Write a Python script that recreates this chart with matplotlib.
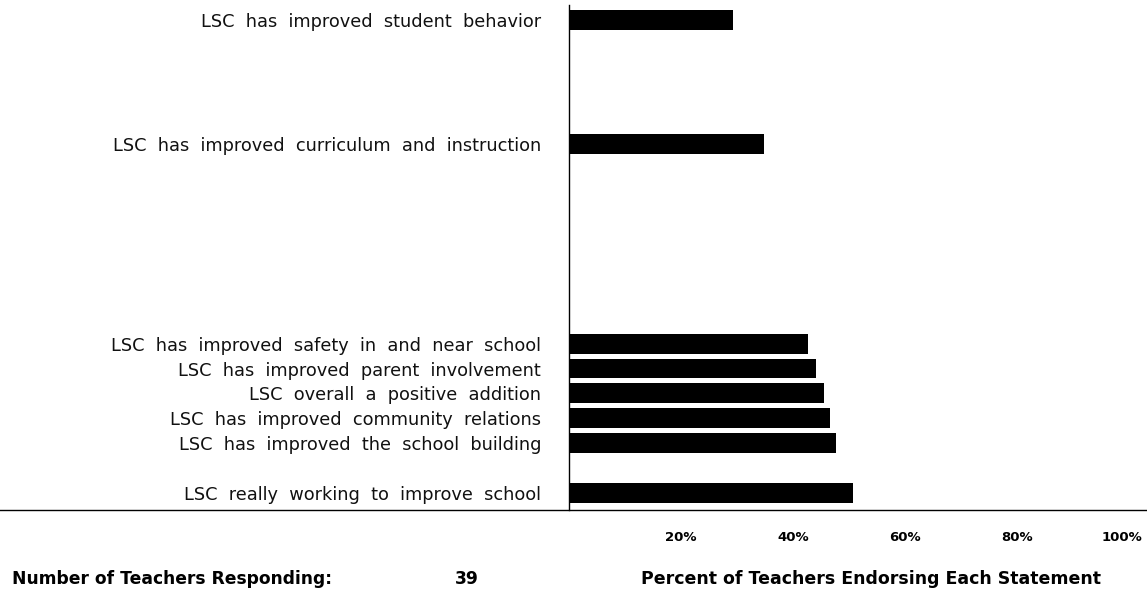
import matplotlib
matplotlib.use("Agg")
import matplotlib.pyplot as plt
from matplotlib.lines import Line2D
from matplotlib.transforms import ScaledTranslation

statements = [
    "LSC really working to improve school",
    "LSC has improved the school building",
    "LSC has improved community relations",
    "LSC overall a positive addition",
    "LSC has improved parent involvement",
    "LSC has improved safety in and near school",
    "LSC has improved curriculum and instruction",
    "LSC has improved student behavior",
]
percent = [50.7, 47.7, 46.6, 45.5, 44.1, 42.7, 34.8, 29.3]
row_pos = [0, 2, 3, 4, 5, 6, 14, 19]
tick_vals = [20, 40, 60, 80, 100]
tick_labels = ["20%", "40%", "60%", "80%", "100%"]
n_teachers = 39

W, H = 1147, 589
fig = plt.figure(figsize=(W / 100, H / 100), dpi=100)
px_per_pct = 5.6
x0, y_axis, y_top = 569, 510, 5
unit = 24.9
ax = fig.add_axes([x0 / W, 1 - y_axis / H, (W - x0) / W, (y_axis - y_top) / H])
ax.barh(row_pos, percent, height=0.8, color="black")
ax.set_xlim(0, (W - x0) / px_per_pct)
ax.set_ylim(-(y_axis - 493) / unit, (493 - y_top) / unit)

for s in ["top", "right", "bottom"]:
    ax.spines[s].set_visible(False)
ax.spines["left"].set_linewidth(1.0)

font = ["DejaVu Sans"]
ax.set_xticks(tick_vals)
ax.set_xticklabels(tick_labels, fontsize=9.5, fontweight="bold", family=font)
ax.tick_params(axis="x", length=0, pad=15)
last = ax.get_xticklabels()[-1]
last.set_transform(last.get_transform() + ScaledTranslation(-0.07, 0, fig.dpi_scale_trans))
ax.set_yticks(row_pos)
ax.set_yticklabels([s.replace(" ", "  ") for s in statements], fontsize=12.8,
                   family=font, color="#111111")
ax.tick_params(axis="y", length=0, pad=20)

fig.add_artist(Line2D([0, 1], [1 - y_axis / H, 1 - y_axis / H], transform=fig.transFigure,
                      color="black", lw=1.0))

ty = 1 - 584 / H
fig.text(12 / W, ty, "Number of Teachers Responding:", fontsize=12.3, fontweight="bold",
         family=font, ha="left", va="baseline")
fig.text(467 / W, ty, str(n_teachers), fontsize=12.3, fontweight="bold",
         family=font, ha="center", va="baseline")
fig.text(641 / W, ty, "Percent of Teachers Endorsing Each Statement", fontsize=12.5,
         fontweight="bold", family=font, ha="left", va="baseline")

fig.savefig("out.png", dpi=100)
